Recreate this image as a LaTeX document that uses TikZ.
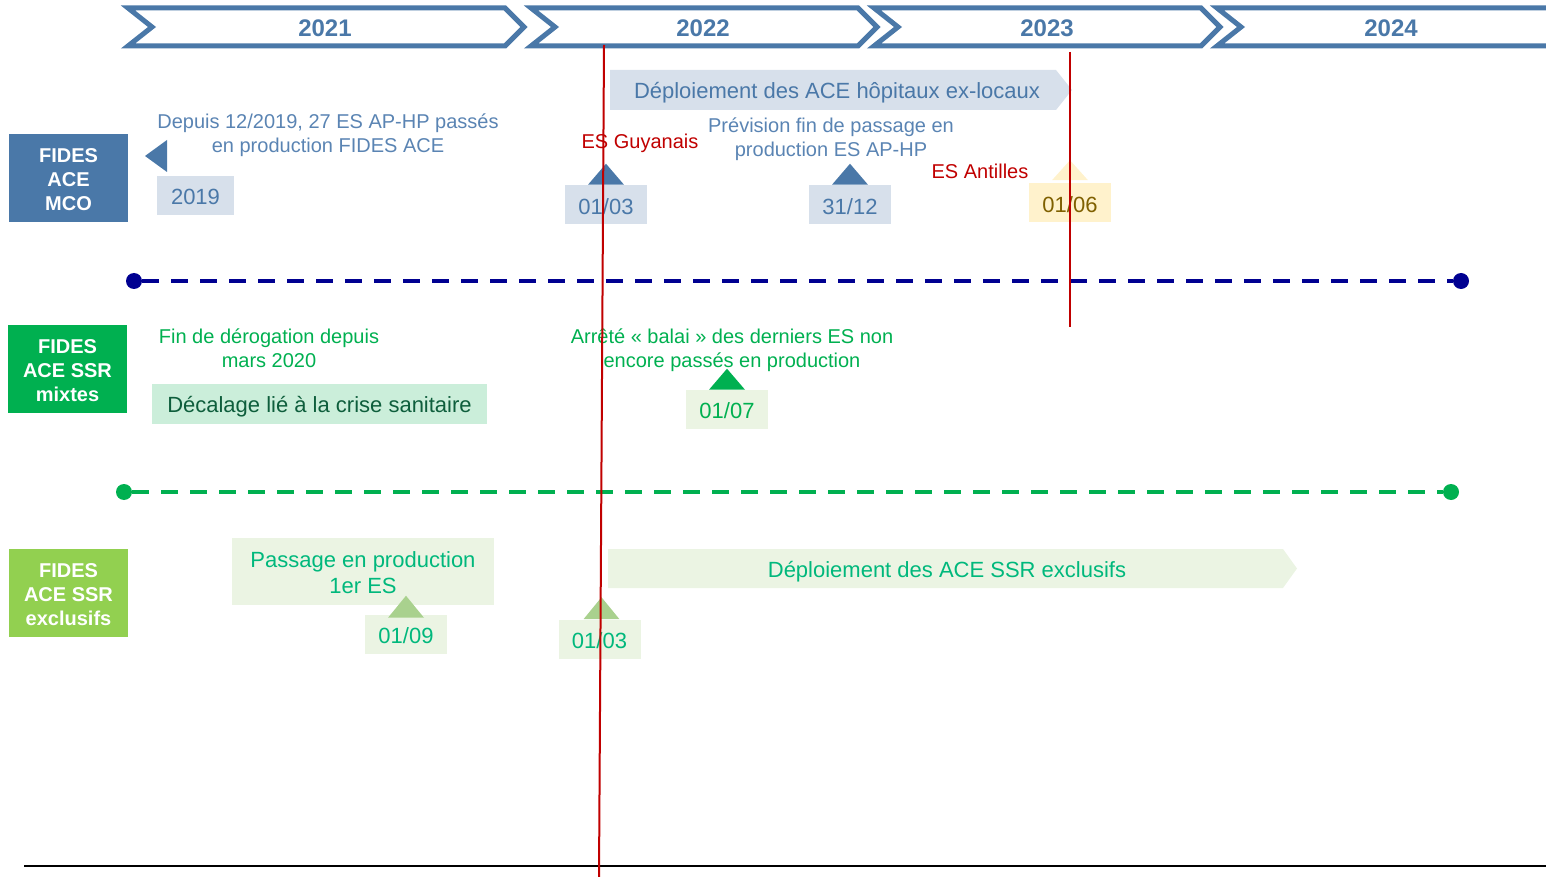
\documentclass[tikz,border=0pt]{standalone}
\usepackage{fontspec}
\setmainfont{Liberation Sans}
\usepackage{tikz}
\usetikzlibrary{positioning}
\newcommand{\Fsm}{\fontsize{15}{18}\selectfont}
\newcommand{\Flg}{\fontsize{16.5}{19}\selectfont}
\newcommand{\Fyr}{\fontsize{18}{20}\selectfont\bfseries}

\begin{document}
\begin{tikzpicture}[x=0.75pt,y=-0.75pt,
  chev/.style={draw=mblue, line width=3.75pt, line join=miter},
  rowbox/.style={minimum width=89.25pt, minimum height=66pt, inner sep=0pt},
  rowtxt/.style={inner sep=0pt, text=white, align=center, font=\Fsm\bfseries},
  datebox/.style={minimum width=61.5pt, minimum height=29.25pt, inner sep=0pt, font=\Flg, text height=14pt, text depth=0pt},
  band/.style={font=\Flg, text height=12pt, text depth=0pt, inner sep=0pt},
  dot/.style={circle, inner sep=0pt, minimum size=12pt},
  note/.style={align=center, font=\Fsm, inner sep=0pt},
  redl/.style={draw=dred, line width=1.5pt}]
\definecolor{mblue}{HTML}{4A78A8}
\definecolor{tblue}{HTML}{5A84B3}
\definecolor{lblue}{HTML}{D7E0EB}
\definecolor{dred}{HTML}{C00000}
\definecolor{dnavy}{HTML}{000091}
\definecolor{mgreen}{HTML}{00B050}
\definecolor{lgreen}{HTML}{92D050}
\definecolor{mint}{HTML}{CBEEDA}
\definecolor{dgreen}{HTML}{0E5E3C}
\definecolor{pgreen}{HTML}{EBF4E3}
\definecolor{tealg}{HTML}{00B87C}
\definecolor{tgreen}{HTML}{A9D18E}
\definecolor{pyel}{HTML}{FFF2CC}
\definecolor{olivet}{HTML}{7F6000}
\useasboundingbox (0,0) rectangle (1546,877);
% year bands
\foreach \a/\b/\c/\yr in {128/505/325/2021, 531/858/703/2022, 874/1201/1047/2023} {
  \draw[chev] (\a,8) -- (\b,8) -- (\b+19,27) -- (\b,46) -- (\a,46) -- (\a+24,27) -- cycle;
  \node[font=\Fyr, text=mblue] (y\yr) at (\c,28) {\yr};
}
\draw[chev] (1560,8) -- (1217,8) -- (1241,27) -- (1217,46) -- (1560,46);
\node[font=\Fyr, text=mblue] (y2024) at (1391,28) {2024};
% row labels
\node[rowbox, fill=mblue] (lMco) at (68.5,178) {};
\node[rowtxt] (lMcoT) at ([yshift=-1.5pt]lMco.center) {FIDES\\ACE\\MCO};
\node[rowbox, fill=mgreen] (lMix) at (67.5,369) {};
\node[rowtxt] (lMixT) at ([yshift=-1.5pt]lMix.center) {FIDES\\ACE SSR\\mixtes};
\node[rowbox, fill=lgreen] (lExc) at (68.5,593) {};
\node[rowtxt] (lExcT) at ([yshift=-1.5pt]lExc.center) {FIDES\\ACE SSR\\exclusifs};
% MCO row
\fill[lblue] (610,70) -- (1056,70) -- (1072,90) -- (1056,110) -- (610,110) -- cycle;
\node[band, text=mblue, text height=13pt] (depMco) at (837,90) {Déploiement des ACE hôpitaux ex-locaux};
\node[note, text=tblue] (tDepuis) at (328,135) {Depuis 12/2019, 27 ES AP-HP passés\\en production FIDES ACE};
\fill[mblue] (145,156) -- (167,140) -- (167,172) -- cycle;
\node[datebox, fill=lblue, text=mblue, minimum width=57.75pt] (d2019) at (195.5,195.5) {2019};
\node[note, text=dred] (tGuy) at (640,143) {ES Guyanais};
\node[datebox, fill=lblue, text=mblue, text height=14.5pt] (dMcoA) at (606,204.5) {01/03};
\fill[mblue] (dMcoA.north) ++(-18,0) -- ++(36,0) -- ++(-18,-21) -- cycle;
\node[note, text=tblue] (tPrev) at (831,139) {Prévision fin de passage en\\production ES AP-HP};
\node[datebox, fill=lblue, text=mblue, text height=14.5pt] (dMcoB) at (850,204.5) {31/12};
\fill[mblue] (dMcoB.north) ++(-18,0) -- ++(36,0) -- ++(-18,-21) -- cycle;
\node[note, text=dred] (tAnt) at (980,171) {ES Antilles};
\node[datebox, fill=pyel, text=olivet, text height=14.5pt] (dMcoC) at (1070,203) {01/06};
\fill[pyel] (dMcoC.north) ++(-18,-3) -- ++(36,0) -- ++(-18,-20) -- cycle;
% separator MCO / mixtes
\node[dot, fill=dnavy] (mcoL) at (134,281) {};
\node[dot, fill=dnavy] (mcoR) at (1461,281) {};
\draw[dnavy, line width=3pt, dash pattern=on 12.75pt off 9pt] (mcoL) -- (mcoR);
% SSR mixtes row
\node[note, text=mgreen] (tFin) at (269,348) {Fin de dérogation depuis\\mars 2020};
\node[band, fill=mint, text=dgreen, minimum width=251.25pt, minimum height=30pt] (decal) at (319.5,404) {Décalage lié à la crise sanitaire};
\node[note, text=mgreen] (tArr) at (732,350) {Arrêté « balai » des derniers ES non\\encore passés en production};
\node[datebox, fill=pgreen, text=mgreen, text height=13pt] (dMix) at (727,409.5) {01/07};
\fill[mgreen] (dMix.north) ++(-18,0) -- ++(36,0) -- ++(-18,-21) -- cycle;
% separator mixtes / exclusifs
\node[dot, fill=mgreen] (mixL) at (124,492) {};
\node[dot, fill=mgreen] (mixR) at (1451,492) {};
\draw[mgreen, line width=3pt, dash pattern=on 12.75pt off 9pt] (mixL) -- (mixR);
% SSR exclusifs row
\node[fill=pgreen, minimum width=196.5pt, minimum height=50.25pt, inner sep=0pt] (pass) at (363,571.5) {};
\node[font=\Flg, text=tealg, align=center, inner sep=0pt] (passT) at ([yshift=-0.75pt]pass.center) {Passage en production\\1er ES};
\node[datebox, fill=pgreen, text=tealg] (dExcA) at (406,634.5) {01/09};
\fill[tgreen] (dExcA.north) ++(-18,3) -- ++(36,0) -- ++(-18,-22) -- cycle;
\fill[pgreen] (608,549) -- (1283,549) -- (1297,568.5) -- (1283,588) -- (608,588) -- cycle;
\node[band, text=tealg, text height=13pt] (depExc) at (947,569) {Déploiement des ACE SSR exclusifs};
\node[datebox, fill=pgreen, text=tealg, text height=14.5pt] (dExcB) at (599.5,639) {01/03};
\fill[tgreen] (dExcB.north) ++(-16,0) -- ++(36,0) -- ++(-18,-22) -- cycle;
% base line
\coordinate (baseL) at (24,866);
\coordinate (baseR) at (1546,866);
\draw[black, line width=1.5pt] (baseL) -- (baseR);
% red markers
\coordinate (r1t) at (604,45);
\coordinate (r1b) at (599,877);
\coordinate (r2t) at (1070,52);
\coordinate (r2b) at (1070,327);
\draw[redl] (r1t) -- (r1b);
\draw[redl] (r2t) -- (r2b);
\end{tikzpicture}
\end{document}
